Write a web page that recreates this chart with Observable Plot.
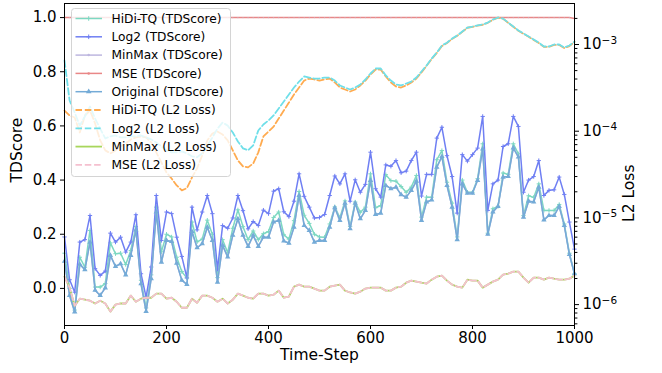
<!DOCTYPE html>
<html><head><meta charset="utf-8">
<script src="https://cdn.jsdelivr.net/npm/d3@7"></script>
<script src="https://cdn.jsdelivr.net/npm/@observablehq/plot@0.6"></script>
<style>
body{margin:0;background:#fff;}
#chart{position:relative;width:662px;height:373px;font-family:"DejaVu Sans",sans-serif;}
#chart svg{position:absolute;left:0;top:0;}
</style></head><body><div id="chart"></div>
<script>
// time steps (x categories)
const steps = d3.range(0, 1001, 10);
const xTicks = [0, 200, 400, 600, 800, 1000];
const yTicksLeft = [0, 0.2, 0.4, 0.6, 0.8, 1.0];
const yTicksRight = [1e-6, 1e-5, 1e-4, 1e-3];

const hidiTD = [0.13, 0.0, -0.08, 0.115, 0.078, 0.214, 0.005, 0.005, 0.018, 0.168,
 0.128, 0.13, 0.088, 0.14, 0.228, 0.03, -0.072, 0.05, 0.30, 0.135,
 0.2, 0.19, 0.115, 0.062, 0.038, 0.245, 0.172, 0.182, 0.252, 0.2,
 0.04, 0.18, 0.132, 0.222, 0.29, 0.228, 0.18, 0.212, 0.18, 0.202,
 0.21, 0.262, 0.282, 0.198, 0.182, 0.25, 0.358, 0.27, 0.24, 0.2,
 0.19, 0.189, 0.238, 0.301, 0.261, 0.323, 0.229, 0.319, 0.281, 0.30,
 0.423, 0.298, 0.306, 0.42, 0.398, 0.396, 0.376, 0.355, 0.374, 0.417,
 0.263, 0.337, 0.337, 0.475, 0.509, 0.392, 0.315, 0.19, 0.40, 0.355,
 0.355, 0.405, 0.534, 0.204, 0.294, 0.303, 0.426, 0.421, 0.534, 0.497,
 0.269, 0.342, 0.336, 0.386, 0.288, 0.288, 0.288, 0.31, 0.238, 0.13,
 0.054];
const log2TD = [0.19, 0.032, -0.014, 0.171, 0.18, 0.269, 0.073, 0.048, 0.064, 0.204,
 0.171, 0.189, 0.134, 0.171, 0.272, 0.054, -0.032, 0.079, 0.343, 0.177,
 0.282, 0.276, 0.189, 0.118, 0.039, 0.30, 0.216, 0.282, 0.343, 0.276,
 0.071, 0.232, 0.222, 0.26, 0.343, 0.287, 0.22, 0.247, 0.232, 0.289,
 0.276, 0.359, 0.368, 0.283, 0.265, 0.322, 0.423, 0.34, 0.30, 0.26,
 0.262, 0.273, 0.343, 0.415, 0.386, 0.423, 0.322, 0.401, 0.355, 0.384,
 0.503, 0.368, 0.337, 0.456, 0.451, 0.472, 0.427, 0.433, 0.472, 0.503,
 0.341, 0.421, 0.421, 0.555, 0.595, 0.49, 0.413, 0.278, 0.494, 0.47,
 0.494, 0.518, 0.635, 0.288, 0.386, 0.40, 0.524, 0.534, 0.635, 0.598,
 0.355, 0.40, 0.413, 0.472, 0.343, 0.362, 0.364, 0.411, 0.347, 0.245,
 0.145];
const minmaxTD = [0.10, -0.026, -0.087, 0.089, 0.069, 0.171, -0.007, -0.026, 0.002, 0.122,
 0.081, 0.091, 0.05, 0.122, 0.216, 0.017, -0.085, 0.036, 0.282, 0.097,
 0.177, 0.173, 0.093, 0.03, 0.015, 0.21, 0.15, 0.165, 0.226, 0.177,
 0.023, 0.159, 0.116, 0.196, 0.257, 0.196, 0.155, 0.196, 0.155, 0.189,
 0.189, 0.245, 0.251, 0.175, 0.167, 0.226, 0.343, 0.232, 0.214, 0.171,
 0.177, 0.177, 0.226, 0.298, 0.251, 0.315, 0.22, 0.315, 0.257, 0.288,
 0.399, 0.273, 0.278, 0.38, 0.368, 0.374, 0.346, 0.337, 0.362, 0.396,
 0.251, 0.319, 0.327, 0.448, 0.487, 0.38, 0.30, 0.18, 0.386, 0.352,
 0.352, 0.399, 0.515, 0.2, 0.282, 0.303, 0.411, 0.413, 0.519, 0.485,
 0.263, 0.322, 0.319, 0.374, 0.253, 0.269, 0.269, 0.303, 0.232, 0.125,
 0.054];
const mseTD = [1.0, 1.0, 1.0, 1.0, 1.0, 1.0, 1.0, 1.0, 1.0, 1.0,
 1.0, 1.0, 1.0, 1.0, 1.0, 1.0, 1.0, 1.0, 1.0, 1.0,
 1.0, 1.0, 1.0, 1.0, 1.0, 1.0, 1.0, 1.0, 1.0, 1.0,
 1.0, 1.0, 1.0, 1.0, 1.0, 1.0, 1.0, 1.0, 1.0, 1.0,
 1.0, 1.0, 1.0, 1.0, 1.0, 1.0, 1.0, 1.0, 1.0, 1.0,
 1.0, 1.0, 1.0, 1.0, 1.0, 1.0, 1.0, 1.0, 1.0, 1.0,
 1.0, 1.0, 1.0, 1.0, 1.0, 1.0, 1.0, 1.0, 1.0, 1.0,
 1.0, 1.0, 1.0, 1.0, 1.0, 1.0, 1.0, 1.0, 1.0, 1.0,
 1.0, 1.0, 1.0, 1.0, 1.0, 1.0, 1.0, 1.0, 1.0, 1.0,
 1.0, 1.0, 1.0, 1.0, 1.0, 1.0, 1.0, 1.0, 1.0, 1.0,
 0.997];
const originalTD = [0.10, -0.026, -0.087, 0.089, 0.069, 0.171, -0.007, -0.026, 0.002, 0.122,
 0.081, 0.091, 0.05, 0.122, 0.216, 0.017, -0.085, 0.036, 0.282, 0.097,
 0.177, 0.173, 0.093, 0.03, 0.015, 0.21, 0.15, 0.165, 0.226, 0.177,
 0.023, 0.159, 0.116, 0.196, 0.257, 0.196, 0.155, 0.196, 0.155, 0.189,
 0.189, 0.245, 0.251, 0.175, 0.167, 0.226, 0.343, 0.232, 0.214, 0.171,
 0.177, 0.177, 0.226, 0.298, 0.251, 0.315, 0.22, 0.315, 0.257, 0.288,
 0.399, 0.273, 0.278, 0.38, 0.368, 0.374, 0.346, 0.337, 0.362, 0.396,
 0.251, 0.319, 0.327, 0.448, 0.487, 0.38, 0.30, 0.18, 0.386, 0.352,
 0.352, 0.399, 0.515, 0.2, 0.282, 0.303, 0.411, 0.413, 0.519, 0.485,
 0.263, 0.322, 0.319, 0.374, 0.253, 0.269, 0.269, 0.303, 0.232, 0.125,
 0.054];

const hidiL2 = [1.73e-4, 1.52e-4, 1.44e-4, 9.66e-5, 1.52e-4, 1.73e-4, 1.23e-4, 7.83e-5, 6.01e-5, 5.55e-5,
 6.01e-5, 6.68e-5, 7.23e-5, 8.04e-5, 8.47e-5, 8.70e-5, 8.47e-5, 7.42e-5, 5.70e-5, 4.36e-5,
 3.34e-5, 2.85e-5, 2.37e-5, 2.08e-5, 2.20e-5, 2.93e-5, 3.73e-5, 5.27e-5, 7.83e-5, 9.41e-5,
 9.92e-5, 9.17e-5, 7.83e-5, 6.01e-5, 4.59e-5, 3.93e-5, 3.83e-5, 4.25e-5, 5.70e-5, 8.70e-5,
 9.92e-5, 1.13e-4, 1.40e-4, 1.73e-4, 2.14e-4, 2.65e-4, 3.19e-4, 3.84e-4, 4.05e-4, 3.95e-4,
 3.84e-4, 3.95e-4, 4.05e-4, 3.65e-4, 3.19e-4, 3.03e-4, 2.87e-4, 3.03e-4, 3.37e-4, 3.84e-4,
 4.51e-4, 5.15e-4, 5.15e-4, 4.28e-4, 3.65e-4, 3.28e-4, 3.19e-4, 3.37e-4, 3.65e-4, 4.05e-4,
 4.76e-4, 5.70e-4, 6.80e-4, 8.00e-4, 9.60e-4, 1.04e-3, 1.16e-3, 1.26e-3, 1.40e-3, 1.56e-3,
 1.60e-3, 1.65e-3, 1.69e-3, 1.78e-3, 1.93e-3, 2.04e-3, 1.98e-3, 1.78e-3, 1.60e-3, 1.44e-3,
 1.33e-3, 1.23e-3, 1.13e-3, 1.04e-3, 9.40e-4, 9.40e-4, 9.90e-4, 9.90e-4, 9.10e-4, 9.60e-4,
 1.07e-3];
const log2L2 = [6.54e-4, 2.26e-4, 1.64e-4, 1.16e-4, 1.48e-4, 1.93e-4, 1.40e-4, 1.07e-4, 8.25e-5, 8.70e-5,
 8.93e-5, 8.47e-5, 8.47e-5, 8.70e-5, 8.70e-5, 8.93e-5, 8.47e-5, 8.04e-5, 7.42e-5, 6.68e-5,
 6.01e-5, 5.70e-5, 5.70e-5, 5.86e-5, 5.55e-5, 5.13e-5, 5.00e-5, 5.55e-5, 6.86e-5, 8.47e-5,
 1.07e-4, 1.26e-4, 1.16e-4, 9.66e-5, 7.62e-5, 6.34e-5, 6.01e-5, 6.86e-5, 1.02e-4, 1.195e-4,
 1.33e-4, 1.52e-4, 1.83e-4, 2.20e-4, 2.65e-4, 3.19e-4, 3.74e-4, 4.28e-4, 4.16e-4, 4.05e-4,
 4.05e-4, 4.16e-4, 4.16e-4, 3.84e-4, 3.37e-4, 3.19e-4, 3.03e-4, 3.19e-4, 3.46e-4, 3.95e-4,
 4.63e-4, 5.29e-4, 5.29e-4, 4.39e-4, 3.84e-4, 3.46e-4, 3.37e-4, 3.55e-4, 3.74e-4, 4.16e-4,
 4.88e-4, 5.73e-4, 6.90e-4, 8.09e-4, 9.74e-4, 1.05e-3, 1.17e-3, 1.27e-3, 1.41e-3, 1.57e-3,
 1.61e-3, 1.66e-3, 1.70e-3, 1.79e-3, 1.94e-3, 2.05e-3, 1.99e-3, 1.79e-3, 1.61e-3, 1.45e-3,
 1.34e-3, 1.24e-3, 1.14e-3, 1.05e-3, 9.48e-4, 9.48e-4, 1.00e-3, 1.00e-3, 9.23e-4, 9.74e-4,
 1.08e-3];
const minmaxL2 = [2.10e-6, 1.57e-6, 0.97e-6, 1.17e-6, 1.14e-6, 1.11e-6, 1.03e-6, 1.11e-6, 1.03e-6, 0.83e-6,
 1.00e-6, 1.03e-6, 1.03e-6, 1.27e-6, 1.08e-6, 1.17e-6, 1.20e-6, 1.20e-6, 1.34e-6, 1.34e-6,
 1.17e-6, 1.20e-6, 1.08e-6, 0.92e-6, 0.92e-6, 1.17e-6, 1.05e-6, 1.27e-6, 1.27e-6, 1.20e-6,
 1.08e-6, 1.17e-6, 1.03e-6, 1.14e-6, 1.34e-6, 1.27e-6, 1.20e-6, 1.17e-6, 1.34e-6, 1.34e-6,
 1.27e-6, 1.30e-6, 1.45e-6, 1.20e-6, 1.24e-6, 1.61e-6, 1.70e-6, 1.61e-6, 1.61e-6, 1.53e-6,
 1.45e-6, 1.45e-6, 1.61e-6, 1.66e-6, 1.70e-6, 1.45e-6, 1.38e-6, 1.34e-6, 1.41e-6, 1.53e-6,
 1.57e-6, 1.57e-6, 1.57e-6, 1.45e-6, 1.45e-6, 1.57e-6, 1.61e-6, 1.79e-6, 1.89e-6, 1.84e-6,
 1.79e-6, 1.75e-6, 1.94e-6, 2.10e-6, 2.16e-6, 1.89e-6, 1.70e-6, 1.61e-6, 1.57e-6, 1.94e-6,
 1.89e-6, 1.89e-6, 1.57e-6, 1.70e-6, 1.84e-6, 1.94e-6, 2.22e-6, 2.28e-6, 2.40e-6, 2.40e-6,
 2.05e-6, 1.79e-6, 2.05e-6, 2.05e-6, 1.94e-6, 2.05e-6, 1.99e-6, 1.94e-6, 1.94e-6, 1.99e-6,
 2.16e-6];
const mseL2 = [2.10e-6, 1.57e-6, 0.97e-6, 1.17e-6, 1.14e-6, 1.11e-6, 1.03e-6, 1.11e-6, 1.03e-6, 0.83e-6,
 1.00e-6, 1.03e-6, 1.03e-6, 1.27e-6, 1.08e-6, 1.17e-6, 1.20e-6, 1.20e-6, 1.34e-6, 1.34e-6,
 1.17e-6, 1.20e-6, 1.08e-6, 0.92e-6, 0.92e-6, 1.17e-6, 1.05e-6, 1.27e-6, 1.27e-6, 1.20e-6,
 1.08e-6, 1.17e-6, 1.03e-6, 1.14e-6, 1.34e-6, 1.27e-6, 1.20e-6, 1.17e-6, 1.34e-6, 1.34e-6,
 1.27e-6, 1.30e-6, 1.45e-6, 1.20e-6, 1.24e-6, 1.61e-6, 1.70e-6, 1.61e-6, 1.61e-6, 1.53e-6,
 1.45e-6, 1.45e-6, 1.61e-6, 1.66e-6, 1.70e-6, 1.45e-6, 1.38e-6, 1.34e-6, 1.41e-6, 1.53e-6,
 1.57e-6, 1.57e-6, 1.57e-6, 1.45e-6, 1.45e-6, 1.57e-6, 1.61e-6, 1.79e-6, 1.89e-6, 1.84e-6,
 1.79e-6, 1.75e-6, 1.94e-6, 2.10e-6, 2.16e-6, 1.89e-6, 1.70e-6, 1.61e-6, 1.57e-6, 1.94e-6,
 1.89e-6, 1.89e-6, 1.57e-6, 1.70e-6, 1.84e-6, 1.94e-6, 2.22e-6, 2.28e-6, 2.40e-6, 2.40e-6,
 2.05e-6, 1.79e-6, 2.05e-6, 2.05e-6, 1.94e-6, 2.05e-6, 1.99e-6, 1.94e-6, 1.94e-6, 1.99e-6,
 2.16e-6];

const W = 662, H = 373, mL = 64, mR = 88, mT = 3, mB = 48;
const leftDomain = [-0.137, 1.052];
const rightDomain = [Math.pow(10, -6.241), Math.pow(10, -2.527)];

const tdSeries = [
  {name: "HiDi-TQ (TDScore)", values: hidiTD, color: "#7dd8c2", symbol: "plus", r: 1.5, fill: "none"},
  {name: "Log2 (TDScore)", values: log2TD, color: "#6f7ff3", symbol: "plus", r: 1.5, fill: "none"},
  {name: "MinMax (TDScore)", values: minmaxTD, color: "#bdb6df", symbol: "circle", r: 1.3, fill: "#bdb6df"},
  {name: "MSE (TDScore)", values: mseTD, color: "#e98787", symbol: "circle", r: 0.7, fill: "#c9a9b9"},
  {name: "Original (TDScore)", values: originalTD, color: "#74abd7", symbol: "triangle", r: 2.0, fill: "#74abd7"}
];
const l2Series = [
  {name: "HiDi-TQ (L2 Loss)", values: hidiL2, color: "#ffab50", dash: "6.5,2.8"},
  {name: "Log2 (L2 Loss)", values: log2L2, color: "#6fdfe9", dash: "6.5,2.8"},
  {name: "MinMax (L2 Loss)", values: minmaxL2, color: "#a8d65c", dash: null},
  {name: "MSE (L2 Loss)", values: mseL2, color: "#f5c0cf", dash: "6.5,2.8"}
];
const rows = vals => steps.map((t, i) => ({t, v: vals[i]}));

const leftMarks = [];
for (const s of tdSeries) {
  const d = rows(s.values);
  leftMarks.push(Plot.line(d, {x: "t", y: "v", stroke: s.color, strokeWidth: 1.5}));
  leftMarks.push(Plot.dot(d, {x: "t", y: "v", symbol: s.symbol, r: s.r, stroke: s.symbol === "plus" ? s.color : "none", fill: s.fill, strokeWidth: 1}));
}

const chart = document.getElementById("chart");
const common = {width: W, height: H, marginLeft: mL, marginRight: mR, marginTop: mT, marginBottom: mB,
  style: {fontFamily: "DejaVu Sans", fontSize: "15px", color: "black", background: "transparent", overflow: "visible"}};

const left = Plot.plot({
  ...common,
  x: {domain: [0, 1000]},
  y: {domain: leftDomain},
  marks: [
    ...leftMarks,
    Plot.axisX({ticks: xTicks, tickSize: 4, tickPadding: 3, label: null, fontSize: 15, tickFormat: d => String(d)}),
    Plot.axisY({ticks: yTicksLeft, tickSize: 4, tickPadding: 4, tickFormat: d3.format(".1f"), label: null, fontSize: 15}),
    Plot.text(["Time-Step"], {frameAnchor: "bottom", dy: 34, text: d => d, fontSize: 15.5}),
    Plot.text(["TDScore"], {frameAnchor: "left", dx: -47, dy: 18, rotate: -90, text: d => d, fontSize: 15.5})
  ]
});
chart.appendChild(left);

const rightMarks = [];
for (const s of l2Series) {
  rightMarks.push(Plot.line(rows(s.values), {x: "t", y: "v", stroke: s.color, strokeWidth: 1.8, strokeDasharray: s.dash || undefined}));
}
const minorTicks = [];
for (let e = -7; e <= -3; e++) for (let m = 2; m <= 9; m++) {
  const v = m * Math.pow(10, e);
  if (v > rightDomain[0] && v < rightDomain[1]) minorTicks.push(v);
}
const right = Plot.plot({
  ...common,
  x: {domain: [0, 1000], axis: null},
  y: {type: "log", domain: rightDomain, axis: null},
  marks: [
    ...rightMarks,
    Plot.frame({stroke: "black", strokeWidth: 1}),
    Plot.axisY({anchor: "right", ticks: yTicksRight, tickSize: 4, tickPadding: 4, label: null, fontSize: 15,
      tickFormat: d => "\u2212" + Math.round(-Math.log10(d))}),
    Plot.axisY({anchor: "right", ticks: minorTicks, tickSize: 2.4, tickFormat: () => "", label: null}),
    Plot.text(["L2 Loss"], {frameAnchor: "right", dx: 55, rotate: -90, text: d => d, fontSize: 15.5})
  ]
});
chart.appendChild(right);
// superscript exponents
right.querySelectorAll('g[aria-label="y-axis tick label"] text').forEach(t => {
  const e = t.textContent;
  if (!e) return;
  t.textContent = "10";
  const ts = document.createElementNS("http://www.w3.org/2000/svg", "tspan");
  ts.setAttribute("dy", "-0.55em");
  ts.setAttribute("font-size", "10.5px");
  ts.textContent = e;
  t.appendChild(ts);
});

// legend overlay
const all = [...tdSeries.map(s => ({...s, kind: "td"})), ...l2Series.map(s => ({...s, kind: "l2"}))];
const lg = d3.create("svg").attr("width", W).attr("height", H)
  .style("font-family", "DejaVu Sans").style("font-size", "12.2px");
lg.append("rect").attr("x", 71.5).attr("y", 8.5).attr("width", 159).attr("height", 168).attr("rx", 3)
  .attr("fill", "white").attr("fill-opacity", 0.8).attr("stroke", "#d4d4d4");
all.forEach((s, i) => {
  const y = 18.5 + i * 18.3;
  const g = lg.append("g");
  g.append("line").attr("x1", 75.5).attr("x2", 102).attr("y1", y).attr("y2", y)
    .attr("stroke", s.color).attr("stroke-width", s.kind === "td" ? 1.5 : 1.8)
    .attr("stroke-dasharray", s.dash || null);
  if (s.kind === "td") {
    const sym = d3.symbol().type(s.symbol === "plus" ? d3.symbolPlus : s.symbol === "triangle" ? d3.symbolTriangle : d3.symbolCircle)
      .size(s.symbol === "plus" ? 8 : s.symbol === "triangle" ? 14 : 5);
    g.append("path").attr("d", sym()).attr("transform", `translate(88.7,${y})`)
      .attr("fill", s.fill === "none" ? "none" : s.color).attr("stroke", s.symbol === "plus" ? s.color : "none").attr("stroke-width", 1);
  }
  g.append("text").attr("x", 111.5).attr("y", y).attr("dy", "0.35em").attr("fill", "black").text(s.name);
});
chart.appendChild(lg.node());
</script></body></html>
